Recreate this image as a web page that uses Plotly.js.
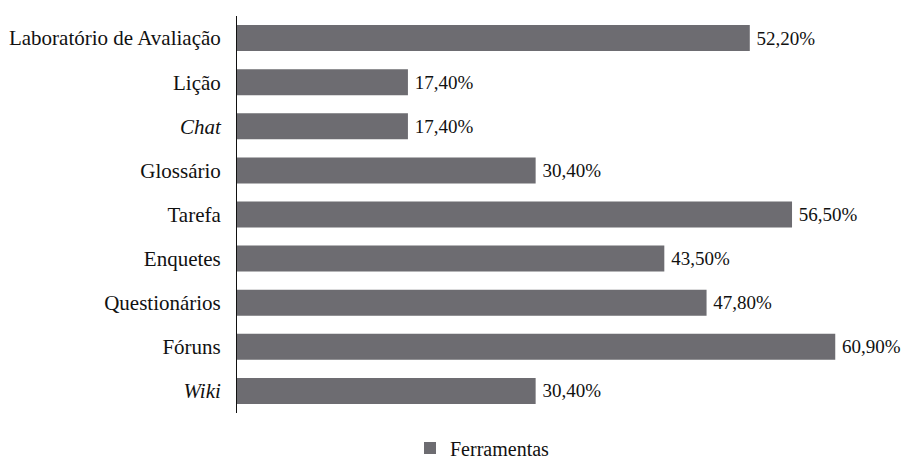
<!DOCTYPE html>
<html><head><meta charset="utf-8">
<script src="https://cdn.plot.ly/plotly-3.0.1.min.js"></script>
<style>html,body{margin:0;padding:0;background:#fff}#chart{width:913px;height:462px}</style>
</head><body><div id="chart"></div>
<script>
const categories = ["Laboratório de Avaliação","Lição","<i>Chat</i>","Glossário","Tarefa","Enquetes","Questionários","Fóruns","<i>Wiki</i>"];
const values = [52.20, 17.40, 17.40, 30.40, 56.50, 43.50, 47.80, 60.90, 30.40];
const seriesName = "Ferramentas";
const labels = values.map(v => '\u2009' + v.toFixed(2).replace('.', ',') + '%');
const font = "Liberation Serif";
Plotly.newPlot('chart', [{
  type: 'bar', orientation: 'h',
  y: categories, x: values, name: seriesName,
  text: labels, textposition: 'outside', cliponaxis: false,
  textfont: {family: font, size: 19, color: '#111'},
  marker: {color: '#6d6c71'}, width: 0.59, hoverinfo: 'none'
}], {
  width: 913, height: 462,
  margin: {l: 237, r: 8, t: 16, b: 49},
  paper_bgcolor: '#fff', plot_bgcolor: '#fff',
  font: {family: font, size: 21, color: '#111'},
  showlegend: true,
  legend: {orientation: 'h', xref: 'container', yref: 'container', x: 410/913, xanchor: 'left', y: 1 - 448/462, yanchor: 'middle', font: {family: font, size: 20, color: '#111'}},
  xaxis: {range: [0, 68], showgrid: false, zeroline: false, showticklabels: false, ticks: '', showline: false},
  yaxis: {autorange: 'reversed', showline: true, linecolor: '#111', linewidth: 1, ticks: '', showgrid: false, ticklabelstandoff: 11, tickfont: {family: font, size: 21, color: '#111'}}
}, {displayModeBar: false});
</script></body></html>
